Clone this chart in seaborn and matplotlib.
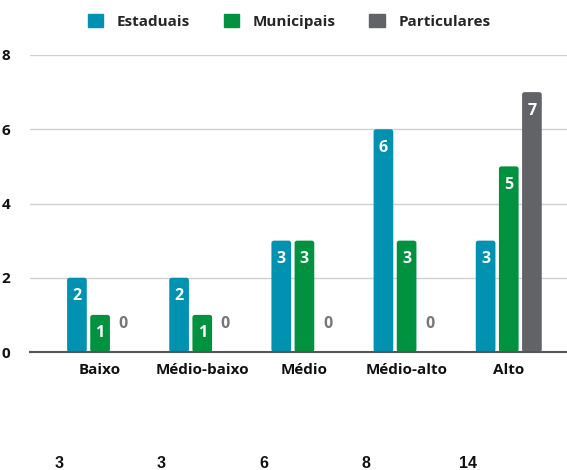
import pandas as pd
import numpy as np
import matplotlib.pyplot as plt
import seaborn as sns
from matplotlib.patches import FancyBboxPatch

categories = ["Baixo", "Médio-baixo", "Médio", "Médio-alto", "Alto"]
estaduais = [2, 2, 3, 6, 3]
municipais = [1, 1, 3, 3, 5]
particulares = [0, 0, 0, 0, 7]
totais = [3, 3, 6, 8, 14]

series = ["Estaduais", "Municipais", "Particulares"]
colors = ["#0092B0", "#00923F", "#626366"]

df = pd.DataFrame({
    "categoria": categories * 3,
    "rede": [s for s in series for _ in categories],
    "valor": estaduais + municipais + particulares,
})

sns.set_theme(style="white")
plt.rcParams["font.family"] = ["Open Sans", "DejaVu Sans"]

fig = plt.figure(figsize=(5.67, 4.70), dpi=100)
ax = fig.add_axes([30 / 567, 1 - 352 / 470, 537 / 567, 297 / 470])

sns.barplot(data=df, x="categoria", y="valor", hue="rede", palette=colors,
            width=0.68, gap=0.15, ax=ax, legend=False, saturation=1)

ax.set_ylim(0, 8)
ax.set_xlim(-0.686, 4.57)
ax.set_yticks([0, 2, 4, 6, 8])
ax.yaxis.grid(True, color="#d0d0d0", linewidth=1)
ax.set_axisbelow(True)
for s in ["top", "right", "left"]:
    ax.spines[s].set_visible(False)
ax.spines["bottom"].set_color("#555555")
ax.spines["bottom"].set_linewidth(1.5)
ax.spines["bottom"].set_zorder(5)
ax.tick_params(axis="both", length=0, labelsize=11)
ax.tick_params(axis="x", pad=8)
ax.tick_params(axis="y", pad=14)
for lab in ax.get_xticklabels() + ax.get_yticklabels():
    lab.set_fontweight("bold")
    lab.set_color("#111111")
ax.set_xlabel("")
ax.set_ylabel("")

# rounded bar tops + value labels
for container in ax.containers:
    for bar in container:
        h = bar.get_height()
        xc = bar.get_x() + bar.get_width() / 2
        if h == 0:
            ax.text(xc, 0.75, "0", ha="center", va="center", color="#777777",
                    fontsize=11.5, fontweight="bold")
            continue
        bar.set_visible(False)
        ax.add_patch(FancyBboxPatch((bar.get_x(), 0), bar.get_width(), h,
                                    boxstyle="round,pad=0,rounding_size=0.025",
                                    mutation_aspect=2.7,
                                    facecolor=bar.get_facecolor(), edgecolor="none"))
        ax.text(xc, h - 0.5, str(int(h)), ha="center", va="center",
                color="white", fontsize=11.5, fontweight="bold")

# totals row under the chart
for i, t in enumerate(totais):
    ax.text(i - 0.4, -3.0, str(t), ha="center", va="center", color="#111111",
            fontsize=11.5, fontweight="bold", family="Liberation Sans", clip_on=False)

handles = [plt.Rectangle((0, 0), 1, 1, color=c) for c in colors]
fig.legend(handles, series, loc="upper center", bbox_to_anchor=(0.51, 1.0),
           ncol=3, frameon=False, handlelength=1.0, handleheight=1.0,
           columnspacing=2.2, handletextpad=0.9,
           prop={"weight": "bold", "size": 11})

fig.savefig("out.png", dpi=100)
